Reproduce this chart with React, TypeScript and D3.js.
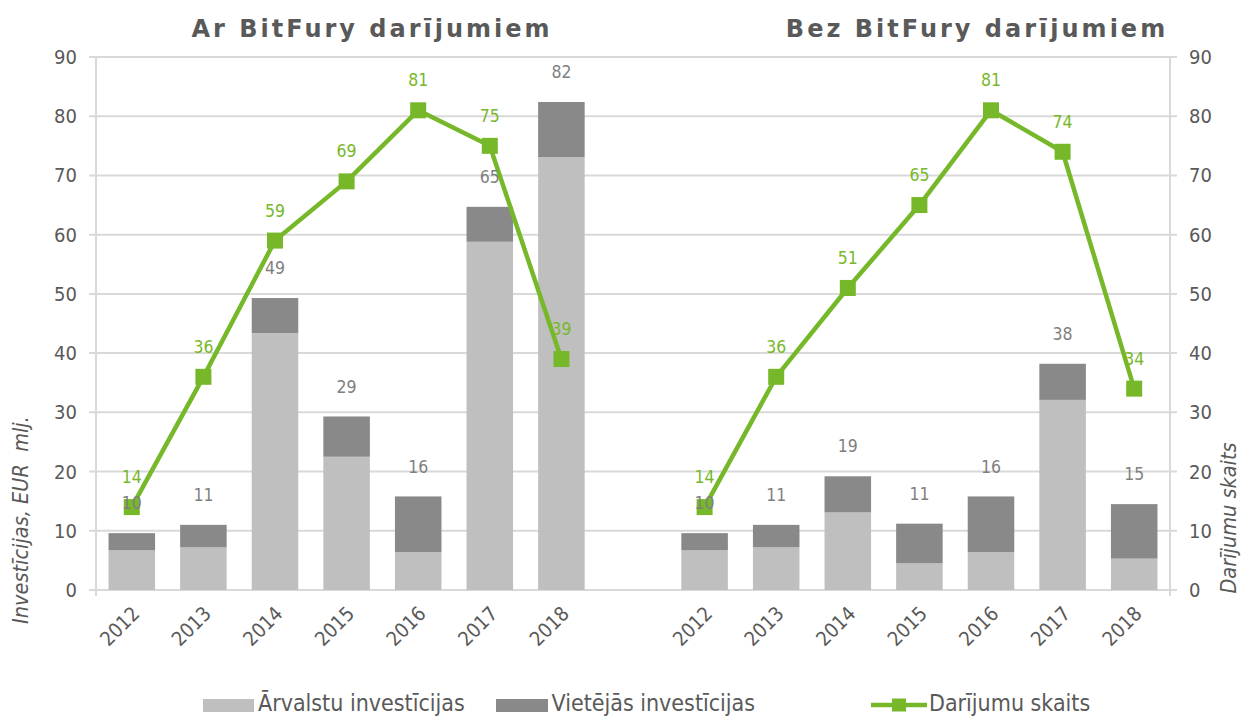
import React, { useEffect } from "react";
import * as d3 from "d3";

// years shown in both panels
const years = ["2012", "2013", "2014", "2015", "2016", "2017", "2018"];

// "Ar BitFury darījumiem" (EUR milj.)
const withForeign = [6.7, 7.2, 43.4, 22.5, 6.4, 58.8, 73.1];
const withLocal = [2.9, 3.8, 5.9, 6.8, 9.4, 5.9, 9.3];
const withTotals = [10, 11, 49, 29, 16, 65, 82];
const withDeals = [14, 36, 59, 69, 81, 75, 39];

// "Bez BitFury darījumiem"
const withoutForeign = [6.7, 7.2, 13.1, 4.5, 6.4, 32.1, 5.3];
const withoutLocal = [2.9, 3.8, 6.1, 6.7, 9.4, 6.1, 9.2];
const withoutTotals = [10, 11, 19, 11, 16, 38, 15];
const withoutDeals = [14, 36, 51, 65, 81, 74, 34];

const yTicks = [0, 10, 20, 30, 40, 50, 60, 70, 80, 90];

const W = 1245;
const H = 718;
const left = 96;
const right = 1170;
const top = 57;
const bottom = 590;

const FONT = "'DejaVu Sans Condensed', 'DejaVu Sans', sans-serif";
const TXT = "#595959";
const LABEL = "#7f7f7f";
const LIGHT = "#bfbfbf";
const DARK = "#898989";
const GREEN = "#77b82a";
const GRID = "#d9d9d9";

export default function App() {
  useEffect(() => {
    document.body.style.margin = "0";
  }, []);

  const panels = [
    { key: "A", title: "Ar BitFury darījumiem", titleX: 372, foreign: withForeign, local: withLocal, totals: withTotals, deals: withDeals },
    { key: "B", title: "Bez BitFury darījumiem", titleX: 977, foreign: withoutForeign, local: withoutLocal, totals: withoutTotals, deals: withoutDeals },
  ];

  const cats = [...years.map((y) => "A" + y), "gap", ...years.map((y) => "B" + y)];
  const x = d3.scaleBand().domain(cats).range([left, right]).paddingInner(0.35).paddingOuter(0.175);
  const bw = x.bandwidth();
  const cx = (c: string) => (x(c) as number) + bw / 2;
  const y = d3.scaleLinear().domain([0, 90]).range([bottom, top]);
  const y2 = d3.scaleLinear().domain([0, 90]).range([bottom, top]);

  const line = d3
    .line<{ cat: string; v: number }>()
    .x((d) => cx(d.cat))
    .y((d) => y2(d.v));

  return (
    <svg width={W} height={H} style={{ display: "block", background: "#fff" }} fontFamily={FONT}>
      {/* grid + tick labels */}
      {yTicks.map((t) => (
        <g key={t}>
          <line x1={left - 7} x2={right + 7} y1={y(t)} y2={y(t)} stroke={GRID} strokeWidth={2} />
          <text x={77} y={y(t)} dy="0.35em" textAnchor="end" fontSize={20} fill={TXT}>
            {t}
          </text>
          <text x={1189} y={y2(t)} dy="0.35em" textAnchor="start" fontSize={20} fill={TXT}>
            {t}
          </text>
        </g>
      ))}
      <line x1={left} x2={left} y1={top} y2={bottom + 6} stroke={GRID} strokeWidth={2} />
      <line x1={right} x2={right} y1={top} y2={bottom + 6} stroke={GRID} strokeWidth={2} />

      {panels.map((p) => {
        const rows = years.map((yr, i) => ({ cat: p.key + yr, foreign: p.foreign[i], local: p.local[i] }));
        const stacked = d3.stack<any>().keys(["foreign", "local"])(rows);
        const pts = years.map((yr, i) => ({ cat: p.key + yr, v: p.deals[i] }));
        return (
          <g key={p.key}>
            <text
              x={p.titleX}
              y={37}
              textAnchor="middle"
              fontFamily="'DejaVu Sans', sans-serif"
              fontWeight="bold"
              fontSize={24}
              letterSpacing={3}
              fill={TXT}
            >
              {p.title}
            </text>
            {stacked.map((s, si) => (
              <g key={si} fill={si === 0 ? LIGHT : DARK}>
                {s.map((d: any) => (
                  <rect key={d.data.cat} x={x(d.data.cat)} width={bw} y={y(d[1])} height={y(d[0]) - y(d[1])} />
                ))}
              </g>
            ))}
            <path d={line(pts) || ""} fill="none" stroke={GREEN} strokeWidth={4.5} strokeLinejoin="round" />
            {pts.map((d) => (
              <rect key={d.cat} x={cx(d.cat) - 8} y={y2(d.v) - 8} width={16} height={16} fill={GREEN} />
            ))}
            {rows.map((r, i) => (
              <text key={r.cat} x={cx(r.cat)} y={y(r.foreign + r.local) - 30} dy="0.35em" textAnchor="middle" fontSize={17.5} fill={LABEL}>
                {p.totals[i]}
              </text>
            ))}
            {pts.map((d) => (
              <text key={d.cat} x={cx(d.cat)} y={y2(d.v) - 30} dy="0.35em" textAnchor="middle" fontSize={17.5} fill={GREEN}>
                {d.v}
              </text>
            ))}
            {years.map((yr) => (
              <text
                key={yr}
                transform={`translate(${cx(p.key + yr) + 4},${bottom + 20}) rotate(-45)`}
                textAnchor="end"
                dy="0.35em"
                fontSize={20}
                fill={TXT}
              >
                {yr}
              </text>
            ))}
          </g>
        );
      })}

      {/* axis titles */}
      <text transform="translate(28,520) rotate(-90)" textAnchor="middle" fontStyle="italic" fontSize={21.5} fill={TXT} xmlSpace="preserve">
        {"Investīcijas, EUR  mlj."}
      </text>
      <text transform="translate(1236,518) rotate(-90)" textAnchor="middle" fontStyle="italic" fontSize={21.5} fill={TXT}>
        Darījumu skaits
      </text>

      {/* legend */}
      <g fontSize={23} fill={TXT}>
        <rect x={203} y={699} width={51} height={13} fill={LIGHT} />
        <text x={258} y={711}>Ārvalstu investīcijas</text>
        <rect x={496} y={699} width={52} height={13} fill={DARK} />
        <text x={551.5} y={711}>Vietējās investīcijas</text>
        <line x1={871} x2={927} y1={705} y2={705} stroke={GREEN} strokeWidth={4.5} />
        <rect x={892} y={698.5} width={14} height={13} fill={GREEN} />
        <text x={929} y={711}>Darījumu skaits</text>
      </g>
    </svg>
  );
}
